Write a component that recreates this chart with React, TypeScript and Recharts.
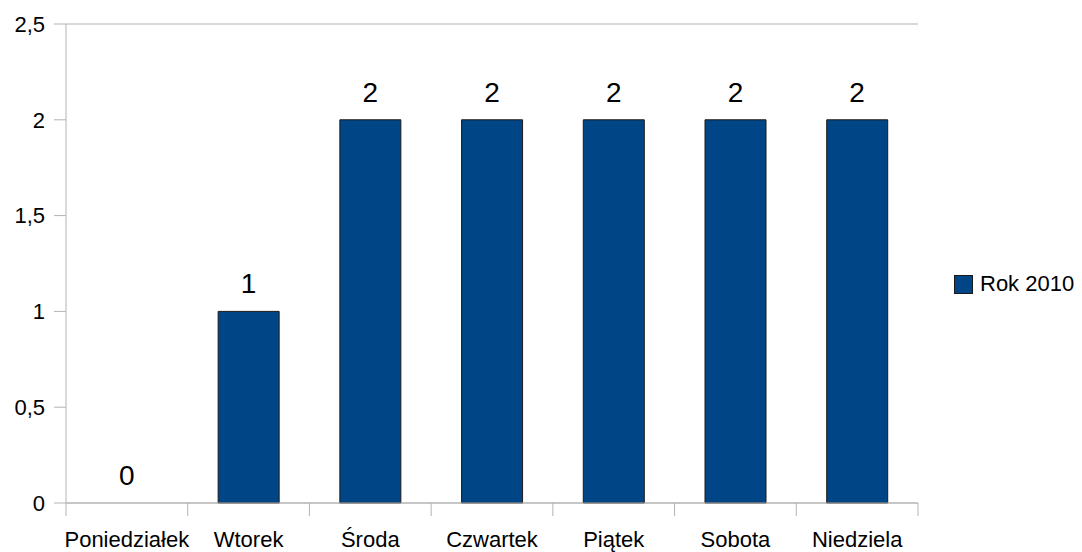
import {
  ComposedChart,
  Bar,
  Line,
  XAxis,
  YAxis,
  CartesianGrid,
  Legend,
  LabelList,
} from 'recharts'

const days = ['Poniedziałek', 'Wtorek', 'Środa', 'Czwartek', 'Piątek', 'Sobota', 'Niedziela']
const rok2010 = [0, 1, 2, 2, 2, 2, 2]
const yTicks = [0, 0.5, 1, 1.5, 2, 2.5]

const FONT = '"Liberation Sans", Arial, sans-serif'
const GRID = '#b3b3b3'
const BAR = '#004586'

const data = days.map((day, i) => ({ day, value: rok2010[i] }))

const W = 1082
const H = 552
const LEFT = 66
const LEGEND_W = 128
// the legend's own width is added on the right by recharts
const RIGHT = 164 - LEGEND_W

// category ticks sit on the band edges, labels in the middle
function DayTick(props: any) {
  const { x, y, payload, index } = props
  const step = (W - LEFT - 164) / days.length
  const half = payload?.offset ?? step / 2
  return (
    <g>
      <line x1={x - half} x2={x - half} y1={y - 8} y2={y + 5} stroke={GRID} />
      {index === days.length - 1 && (
        <line x1={x + half} x2={x + half} y1={y - 8} y2={y + 5} stroke={GRID} />
      )}
      <text x={x} y={y + 36} textAnchor="middle" fill="#000" fontSize={22} fontFamily={FONT}>
        {payload.value}
      </text>
    </g>
  )
}

function LegendBox() {
  return (
    <div style={{ display: 'flex', alignItems: 'center', fontFamily: FONT, fontSize: 22, color: '#000' }}>
      <span style={{ width: 19, height: 19, background: BAR, border: '1px solid #1a1a1a', boxSizing: 'border-box', marginRight: 7 }} />
      <span>Rok 2010</span>
    </div>
  )
}

export default function App() {
  return (
    <div style={{ position: 'absolute', left: 0, top: 0, background: '#fff' }}>
      <ComposedChart
        width={W}
        height={H}
        data={data}
        margin={{ top: 24, right: RIGHT, bottom: 0, left: 0 }}
        barCategoryGap="25%"
      >
        <CartesianGrid stroke={GRID} vertical={false} />
        <XAxis
          dataKey="day"
          height={49}
          axisLine={{ stroke: GRID }}
          tickLine={false}
          tick={<DayTick />}
          interval={0}
        />
        <YAxis
          yAxisId="left"
          width={LEFT}
          domain={[0, 2.5]}
          ticks={yTicks}
          tickFormatter={(v: number) => String(v).replace('.', ',')}
          axisLine={{ stroke: GRID }}
          tickLine={{ stroke: GRID }}
          tickSize={12}
          tickMargin={9}
          tick={{ fill: '#000', fontSize: 22, fontFamily: FONT }}
        />
        <YAxis
          yAxisId="right"
          orientation="right"
          width={0}
          domain={[0, 2.5]}
          tick={false}
          tickLine={false}
          axisLine={{ stroke: GRID }}
        />
        <Legend
          layout="horizontal"
          align="right"
          verticalAlign="middle"
          content={() => <LegendBox />}
          wrapperStyle={{ left: 954, top: 271, width: LEGEND_W }}
        />
        <Bar yAxisId="left" dataKey="value" name="Rok 2010" fill={BAR} stroke="#1a1a1a" strokeWidth={1} isAnimationActive={false} />
        {/* invisible line only to carry the value labels (also for the 0 bar) */}
        <Line
          yAxisId="left"
          dataKey="value"
          stroke="none"
          dot={false}
          activeDot={false}
          legendType="none"
          isAnimationActive={false}
        >
          <LabelList dataKey="value" position="top" offset={18} fill="#000" fontSize={28} fontFamily={FONT} />
        </Line>
      </ComposedChart>
    </div>
  )
}
